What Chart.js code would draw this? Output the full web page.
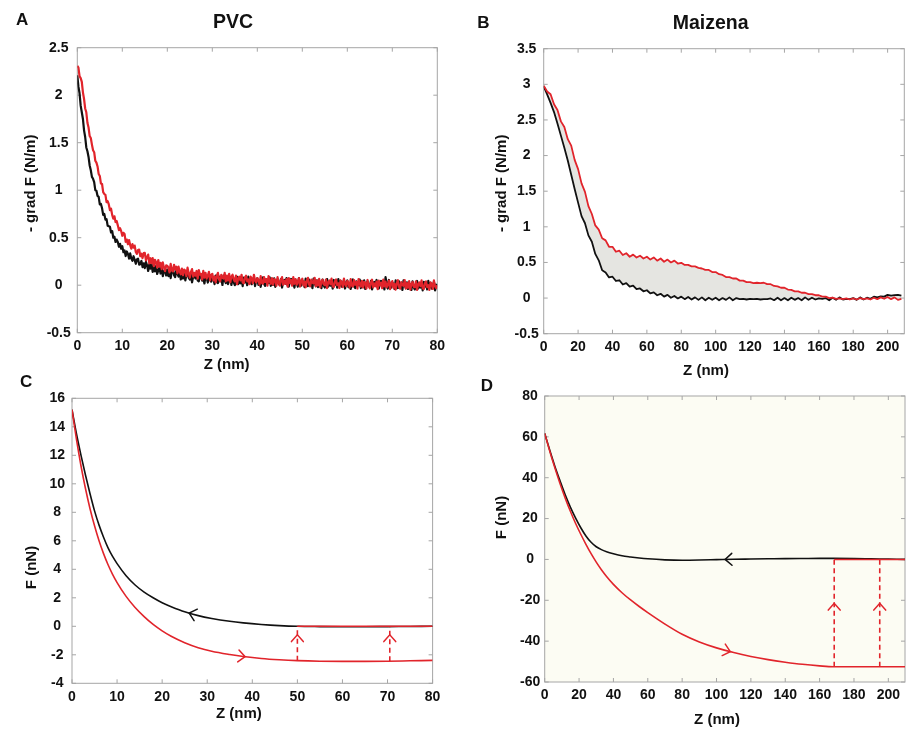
<!DOCTYPE html>
<html>
<head>
<meta charset="utf-8">
<title>PVC / Maizena force curves</title>
<script src="https://cdn.jsdelivr.net/npm/chart.js@4.4.1/dist/chart.umd.min.js"></script>
<style>
  html, body { margin: 0; padding: 0; background: #ffffff; }
  #figure { position: relative; width: 907px; height: 730px; overflow: hidden; }
  #figure canvas { position: absolute; left: 0; top: 0; }
</style>
</head>
<body>
<div id="figure">
  <canvas id="panelA" width="907" height="730"></canvas>
  <canvas id="panelB" width="907" height="730"></canvas>
  <canvas id="panelC" width="907" height="730"></canvas>
  <canvas id="panelD" width="907" height="730"></canvas>
</div>
<script>
// ---------- Panel A: PVC, force gradient vs distance ----------
const zA = [
  0,0.25,0.5,0.75,1,1.25,1.5,1.75,2,2.25,2.5,2.75,3,3.25,3.5,3.75,4,4.25,4.5,4.75,
  5,5.25,5.5,5.75,6,6.25,6.5,6.75,7,7.25,7.5,7.75,8,8.25,8.5,8.75,9,9.25,9.5,9.75,
  10,10.25,10.5,10.75,11,11.25,11.5,11.75,12,12.25,12.5,12.75,13,13.25,13.5,13.75,14,14.25,14.5,14.75,
  15,15.25,15.5,15.75,16,16.25,16.5,16.75,17,17.25,17.5,17.75,18,18.25,18.5,18.75,19,19.25,19.5,19.75,
  20,20.25,20.5,20.75,21,21.25,21.5,21.75,22,22.25,22.5,22.75,23,23.25,23.5,23.75,24,24.25,24.5,24.75,
  25,25.25,25.5,25.75,26,26.25,26.5,26.75,27,27.25,27.5,27.75,28,28.25,28.5,28.75,29,29.25,29.5,29.75,
  30,30.25,30.5,30.75,31,31.25,31.5,31.75,32,32.25,32.5,32.75,33,33.25,33.5,33.75,34,34.25,34.5,34.75,
  35,35.25,35.5,35.75,36,36.25,36.5,36.75,37,37.25,37.5,37.75,38,38.25,38.5,38.75,39,39.25,39.5,39.75,
  40,40.25,40.5,40.75,41,41.25,41.5,41.75,42,42.25,42.5,42.75,43,43.25,43.5,43.75,44,44.25,44.5,44.75,
  45,45.25,45.5,45.75,46,46.25,46.5,46.75,47,47.25,47.5,47.75,48,48.25,48.5,48.75,49,49.25,49.5,49.75,
  50,50.25,50.5,50.75,51,51.25,51.5,51.75,52,52.25,52.5,52.75,53,53.25,53.5,53.75,54,54.25,54.5,54.75,
  55,55.25,55.5,55.75,56,56.25,56.5,56.75,57,57.25,57.5,57.75,58,58.25,58.5,58.75,59,59.25,59.5,59.75,
  60,60.25,60.5,60.75,61,61.25,61.5,61.75,62,62.25,62.5,62.75,63,63.25,63.5,63.75,64,64.25,64.5,64.75,
  65,65.25,65.5,65.75,66,66.25,66.5,66.75,67,67.25,67.5,67.75,68,68.25,68.5,68.75,69,69.25,69.5,69.75,
  70,70.25,70.5,70.75,71,71.25,71.5,71.75,72,72.25,72.5,72.75,73,73.25,73.5,73.75,74,74.25,74.5,74.75,
  75,75.25,75.5,75.75,76,76.25,76.5,76.75,77,77.25,77.5,77.75,78,78.25,78.5,78.75,79,79.25,79.5,79.75,
  80];
const gradApproachA = [
  2.21,2.09,2.02,1.89,1.82,1.75,1.63,1.56,1.45,1.41,1.35,1.26,1.21,1.14,1.12,1.085,1.00,0.995,0.94,0.93,
  0.85,0.855,0.81,0.74,0.75,0.69,0.695,0.625,0.62,0.615,0.555,0.57,0.50,0.51,0.455,0.48,0.455,0.405,0.435,0.385,
  0.41,0.347,0.365,0.307,0.355,0.33,0.28,0.335,0.28,0.257,0.305,0.267,0.225,0.272,0.28,0.217,0.22,0.255,0.19,0.23,
  0.18,0.245,0.21,0.15,0.22,0.175,0.225,0.14,0.19,0.146,0.202,0.118,0.155,0.186,0.123,0.189,0.095,0.147,0.165,0.102,
  0.165,0.095,0.135,0.075,0.145,0.175,0.105,0.085,0.155,0.125,0.09,0.15,0.06,0.12,0.07,0.14,0.05,0.11,0.13,0.08,
  0.06,0.12,0.03,0.09,0.11,0.07,0.13,0.05,0.04,0.10,0.108,0.048,0.068,0.018,0.098,0.078,0.028,0.118,0.058,0.038,
  0.082,0.062,0.012,0.102,0.032,0.022,0.092,0.042,0.072,0.002,0.102,0.052,0.022,0.082,0.012,0.072,0.062,0.002,0.092,0.032,
  0.00,0.06,0.09,0.01,0.05,0.02,0.07,-0.01,0.08,0.03,0.06,0.00,0.09,0.02,0.07,0.01,0.04,0.08,-0.01,0.05,
  0.073,0.003,0.043,-0.017,0.053,0.083,0.013,-0.007,0.063,0.033,0.023,0.083,-0.007,0.053,0.003,0.073,-0.017,0.043,0.063,0.013,
  0.005,0.065,-0.025,0.035,0.055,0.015,0.075,-0.005,-0.015,0.045,0.065,0.005,0.025,-0.025,0.055,0.035,-0.015,0.075,0.015,-0.005,
  0.05,0.03,-0.02,0.07,0.00,-0.01,0.06,0.01,0.04,-0.03,0.07,0.02,-0.01,0.05,-0.02,0.04,0.03,-0.03,0.06,0.00,
  -0.025,0.035,0.065,-0.015,0.025,-0.005,0.045,-0.035,0.055,0.005,0.035,-0.025,0.065,-0.005,0.045,-0.015,0.015,0.055,-0.035,0.025,
  0.05,-0.02,0.02,-0.04,0.03,0.06,-0.01,-0.03,0.04,0.01,0.00,0.06,-0.03,0.03,-0.02,0.05,-0.04,0.02,0.04,-0.01,
  -0.015,0.045,-0.045,0.015,0.035,0.005,0.055,-0.025,-0.035,0.025,0.045,-0.015,0.005,-0.045,0.085,0.015,-0.035,0.055,-0.005,-0.025,
  0.03,0.01,-0.04,0.05,-0.02,-0.03,0.04,-0.01,0.02,-0.05,0.05,0.00,-0.03,0.03,-0.04,0.02,0.01,-0.05,0.04,-0.02,
  -0.045,0.015,0.045,-0.035,0.005,-0.025,0.025,-0.055,0.035,-0.015,0.015,-0.045,0.045,-0.025,0.025,-0.035,-0.005,0.035,-0.055,0.005,
  0.00];
const gradRetractA = [
  2.31,2.29,2.20,2.18,2.14,2.03,1.96,1.86,1.82,1.71,1.66,1.57,1.55,1.48,1.42,1.40,1.31,1.29,1.25,1.17,
  1.15,1.07,1.065,0.98,0.96,0.95,0.875,0.885,0.85,0.79,0.805,0.74,0.70,0.725,0.665,0.675,0.63,0.58,0.60,0.57,
  0.52,0.552,0.54,0.457,0.48,0.432,0.475,0.422,0.385,0.432,0.395,0.417,0.35,0.33,0.37,0.375,0.305,0.332,0.285,0.337,
  0.34,0.262,0.295,0.322,0.23,0.284,0.232,0.286,0.20,0.268,0.242,0.186,0.265,0.195,0.235,0.17,0.24,0.186,0.147,0.208,
  0.205,0.185,0.135,0.225,0.155,0.145,0.215,0.165,0.195,0.125,0.195,0.145,0.115,0.175,0.105,0.165,0.155,0.095,0.185,0.125,
  0.08,0.14,0.17,0.09,0.13,0.10,0.15,0.07,0.16,0.11,0.12,0.06,0.15,0.08,0.13,0.07,0.10,0.14,0.05,0.11,
  0.12,0.05,0.09,0.03,0.10,0.13,0.06,0.04,0.11,0.08,0.07,0.13,0.04,0.10,0.05,0.12,0.03,0.09,0.11,0.06,
  0.04,0.10,0.01,0.07,0.09,0.05,0.11,0.03,0.02,0.08,0.10,0.04,0.06,0.01,0.09,0.07,0.02,0.11,0.05,0.03,
  0.075,0.055,0.005,0.095,0.025,0.015,0.085,0.035,0.065,-0.005,0.095,0.045,0.015,0.075,0.005,0.065,0.055,-0.005,0.085,0.025,
  -0.005,0.055,0.085,0.005,0.045,0.015,0.065,-0.015,0.075,0.025,0.055,-0.005,0.085,0.015,0.065,0.005,0.035,0.075,-0.015,0.045,
  0.068,-0.002,0.038,-0.022,0.048,0.078,0.008,-0.012,0.058,0.028,0.018,0.078,-0.012,0.048,-0.002,0.068,-0.022,0.038,0.058,0.008,
  0.00,0.06,-0.03,0.03,0.05,0.01,0.07,-0.01,-0.02,0.04,0.06,0.00,0.02,-0.03,0.05,0.03,-0.02,0.07,0.01,-0.01,
  0.045,0.025,-0.025,0.065,-0.005,-0.015,0.055,0.005,0.035,-0.035,0.065,0.015,-0.015,0.045,-0.025,0.035,0.025,-0.035,0.055,-0.005,
  -0.032,0.028,0.058,-0.022,0.018,-0.012,0.038,-0.042,0.048,-0.002,0.028,-0.032,0.058,-0.012,0.038,-0.022,0.008,0.048,-0.042,0.018,
  0.043,-0.027,0.013,-0.047,0.023,0.053,-0.017,-0.037,0.033,0.003,-0.007,0.053,-0.037,0.023,-0.027,0.043,-0.047,0.013,0.033,-0.017,
  -0.02,0.04,-0.05,0.01,0.03,-0.01,0.05,-0.03,-0.04,0.02,0.04,-0.02,0.00,-0.05,0.03,0.01,-0.04,0.05,-0.01,-0.03,
  0.00];
const xTicksA = [0,10,20,30,40,50,60,70,80];
const yTicksA = [-0.5,0,0.5,1,1.5,2,2.5];

// ---------- Panel B: Maizena, force gradient vs distance ----------
const zB = [0,2,4,6,8,10,12,14,16,18,20,22,24,26,28,30,32,34,36,38,40,42,44,46,48,50,52,54,56,58,60,62,64,66,68,70,72,74,76,78,80,82,84,86,88,90,92,94,96,98,100,102,104,106,108,110,112,114,116,118,120,122,124,126,128,130,132,134,136,138,140,142,144,146,148,150,152,154,156,158,160,162,164,166,168,170,172,174,176,178,180,182,184,186,188,190,192,194,196,198,200,202,204,206,208];
const gradApproachB = [
  2.97,2.86,2.74,2.61,2.45,2.28,2.11,1.93,1.73,1.53,
  1.34,1.15,1.05,0.88,0.79,0.62,0.53,0.39,0.36,0.29,
  0.30,0.24,0.25,0.19,0.21,0.16,0.175,0.125,0.135,0.095,
  0.11,0.065,0.08,0.04,0.06,0.02,0.045,0.005,0.03,-0.005,
  0.02,-0.015,0.015,-0.02,0.01,-0.025,0.01,-0.03,0.005,-0.025,
  0.005,-0.03,0.0,-0.025,0.01,-0.03,0.0,-0.015,-0.01,-0.02,
  -0.01,-0.015,-0.01,-0.02,-0.015,-0.015,-0.005,-0.03,0.005,-0.03,
  0.0,-0.03,0.005,-0.025,0.0,-0.03,0.01,-0.025,0.005,-0.02,
  -0.005,-0.01,0.0,-0.03,0.005,-0.025,0.01,-0.02,-0.01,-0.015,
  0.0,-0.025,0.01,-0.02,0.005,-0.01,0.02,0.01,0.025,0.02,
  0.045,0.035,0.04,0.045,0.035];
const gradRetractB = [
  2.98,2.90,2.86,2.72,2.64,2.48,2.40,2.23,2.14,1.94,
  1.81,1.61,1.49,1.29,1.18,1.02,0.96,0.84,0.81,0.72,
  0.72,0.65,0.665,0.605,0.63,0.58,0.61,0.57,0.595,0.555,
  0.58,0.54,0.57,0.525,0.555,0.51,0.54,0.50,0.525,0.485,
  0.495,0.465,0.465,0.445,0.445,0.425,0.415,0.395,0.395,0.365,
  0.365,0.335,0.325,0.295,0.295,0.275,0.275,0.245,0.245,0.225,
  0.225,0.21,0.215,0.21,0.215,0.195,0.195,0.17,0.165,0.145,
  0.145,0.12,0.115,0.095,0.095,0.075,0.075,0.055,0.055,0.04,
  0.04,0.02,0.02,0.0,0.005,-0.01,-0.005,-0.015,-0.005,-0.02,
  -0.005,-0.02,0.0,-0.015,-0.005,-0.02,0.005,-0.015,0.01,-0.01,
  0.015,-0.015,0.01,-0.025,-0.01];
const xTicksB = [0,20,40,60,80,100,120,140,160,180,200];
const yTicksB = [-0.5,0,0.5,1,1.5,2,2.5,3,3.5];

// ---------- Panel C: PVC, force vs distance ----------
const zC = [0,1,2,3,4,5,6,7,8,9,10,12,14,16,18,20,22,25,28,31,35,38,42,46,50,55,60,65,70,75,80];
const forceApproachC = [15.2,13.5,12.0,10.6,9.3,8.1,7.1,6.25,5.5,4.9,4.4,3.55,2.9,2.4,2.0,1.65,1.38,1.02,0.75,0.55,0.35,0.24,0.13,0.05,0.0,-0.02,-0.03,-0.03,-0.02,-0.01,0.0];
const forceRetractC = [15.2,13.1,11.25,9.65,8.25,7.05,6.0,5.1,4.32,3.65,3.07,2.1,1.32,0.68,0.13,-0.32,-0.7,-1.15,-1.5,-1.75,-1.98,-2.12,-2.26,-2.35,-2.41,-2.45,-2.46,-2.46,-2.45,-2.42,-2.39];
const plateauZC = [50, 80];
const plateauFC = [0, 0];
const jumpZC = [50, 70.5];
const jumpFromC = [-2.41, -2.45];
const jumpToC = [0, 0];
const xTicksC = [0,10,20,30,40,50,60,70,80];
const yTicksC = [-4,-2,0,2,4,6,8,10,12,14,16];

// ---------- Panel D: Maizena, force vs distance ----------
const zD = [0,3,6,9,12,15,18,21,24,27,30,33,36,40,45,50,55,60,70,80,90,100,110,120,130,140,150,160,168,180,190,200,210];
const forceApproachD = [61.7,53.3,45.4,38.3,31.5,25.5,20.2,15.5,11.5,8.4,6.2,4.8,3.8,2.8,1.8,1.2,0.7,0.3,-0.2,-0.4,-0.3,-0.1,0.1,0.2,0.3,0.4,0.45,0.5,0.5,0.45,0.3,0.15,0.0];
const forceRetractD = [61.7,52.85,44.6,36.95,29.9,23.45,17.6,12.32,7.37,2.81,-1.33,-5.05,-8.35,-12.2,-16.3,-19.85,-23.05,-26.05,-31.65,-36.65,-40.4,-43.3,-45.6,-47.5,-49.05,-50.3,-51.35,-52.1,-52.5,-52.5,-52.5,-52.5,-52.5];
const plateauZD = [168.5, 210];
const plateauFD = [0, 0];
const jumpZD = [168.5, 195];
const jumpFromD = [-52.5, -52.5];
const jumpToD = [0, 0];
const xTicksD = [0,20,40,60,80,100,120,140,160,180,200];
const yTicksD = [-60,-40,-20,0,20,40,60,80];

// ---------- shared styling ----------
const INK = '#111111';
const RED = '#e1242b';
const FRAME = '#a6a6a6';
const FONT = '"Liberation Sans", Arial, Helvetica, sans-serif';
const PAGE_W = 907, PAGE_H = 730;
const Y_AXIS_W = 50, X_AXIS_H = 30;

function pairs(xs, ys) { return xs.map((x, i) => ({ x: x, y: ys[i] })); }

function curve(xs, ys, color, width, extra) {
  return Object.assign({
    data: pairs(xs, ys), borderColor: color, backgroundColor: color,
    borderWidth: width, pointRadius: 0, fill: false, tension: 0
  }, extra || {});
}

function jumpLines(zs, from, to) {
  return zs.map((z, i) => curve([z, z], [from[i], to[i]], RED, 1.6,
    { borderDash: [5, 3.5], order: 1 }));
}

function drawChevron(ctx, x, y, ang, len, half, color, lw) {
  ctx.save();
  ctx.strokeStyle = color; ctx.lineWidth = lw; ctx.lineCap = 'round'; ctx.lineJoin = 'miter';
  ctx.beginPath();
  ctx.moveTo(x - len * Math.cos(ang - half), y - len * Math.sin(ang - half));
  ctx.lineTo(x, y);
  ctx.lineTo(x - len * Math.cos(ang + half), y - len * Math.sin(ang + half));
  ctx.stroke();
  ctx.restore();
}

// place an arrowhead on a drawn dataset where its x (or y) reaches a value
function locateOnSeries(chart, spec) {
  const data = chart.data.datasets[spec.ds].data;
  const pts = chart.getDatasetMeta(spec.ds).data;
  for (let i = 0; i < data.length - 1; i++) {
    const a = data[i][spec.key], b = data[i + 1][spec.key];
    if (a !== b && (spec.at - a) * (spec.at - b) <= 0) {
      const t = (spec.at - a) / (b - a);
      const p0 = pts[i], p1 = pts[i + 1];
      let ang = Math.atan2(p1.y - p0.y, p1.x - p0.x);
      if (spec.dir < 0) ang += Math.PI;
      return { x: p0.x + t * (p1.x - p0.x), y: p0.y + t * (p1.y - p0.y), ang: ang };
    }
  }
  return null;
}

function panelDecor(p) {
  return {
    id: 'panelDecor',
    beforeDatasetsDraw(chart) {
      const { ctx, chartArea: a, scales } = chart;
      ctx.save();
      if (p.plotBg) {
        ctx.fillStyle = p.plotBg;
        ctx.fillRect(a.left, a.top, a.right - a.left, a.bottom - a.top);
      }
      ctx.strokeStyle = FRAME; ctx.lineWidth = 1;
      ctx.strokeRect(a.left, a.top, a.right - a.left, a.bottom - a.top);
      const tl = 4;
      ctx.beginPath();
      scales.x.ticks.forEach(t => {
        const px = scales.x.getPixelForValue(t.value);
        ctx.moveTo(px, a.bottom); ctx.lineTo(px, a.bottom - tl);
        ctx.moveTo(px, a.top); ctx.lineTo(px, a.top + tl);
      });
      scales.y.ticks.forEach(t => {
        const py = scales.y.getPixelForValue(t.value);
        ctx.moveTo(a.left, py); ctx.lineTo(a.left + tl, py);
        ctx.moveTo(a.right, py); ctx.lineTo(a.right - tl, py);
      });
      ctx.stroke();
      ctx.restore();
    },
    afterDatasetsDraw(chart) {
      (p.arrows || []).forEach(spec => {
        const loc = locateOnSeries(chart, spec);
        if (loc) drawChevron(chart.ctx, loc.x, loc.y, loc.ang, spec.len || 9, spec.half || 0.72, spec.color, 1.5);
      });
    },
    afterDraw(chart) {
      const ctx = chart.ctx;
      ctx.save();
      ctx.fillStyle = INK;
      ctx.textBaseline = 'alphabetic';
      p.texts.forEach(t => {
        ctx.font = 'bold ' + t.size + 'px ' + FONT;
        if (t.rotate) {
          ctx.save();
          ctx.translate(t.x, t.y);
          ctx.rotate(-Math.PI / 2);
          ctx.textAlign = 'center';
          ctx.fillText(t.text, 0, 0);
          ctx.restore();
        } else {
          ctx.textAlign = t.align || 'center';
          ctx.fillText(t.text, t.x, t.y);
        }
      });
      ctx.restore();
    }
  };
}

function buildPanel(canvasId, p) {
  const tickFont = { family: FONT, size: 14, weight: 'bold' };
  return new Chart(document.getElementById(canvasId), {
    type: 'line',
    data: { datasets: p.datasets },
    options: {
      responsive: false,
      animation: false,
      events: [],
      layout: {
        padding: {
          left: p.box.l - Y_AXIS_W,
          right: PAGE_W - p.box.r,
          top: p.box.t,
          bottom: PAGE_H - p.box.b - X_AXIS_H
        }
      },
      elements: { point: { radius: 0 }, line: { borderJoinStyle: 'round', borderCapStyle: 'butt' } },
      plugins: {
        legend: { display: false },
        tooltip: { enabled: false },
        filler: { drawTime: 'beforeDatasetsDraw', propagate: false }
      },
      scales: {
        x: {
          type: 'linear', min: p.xMin, max: p.xMax,
          grid: { display: false, drawTicks: false }, border: { display: false },
          afterFit: s => { s.height = X_AXIS_H; },
          afterBuildTicks: s => { s.ticks = p.xTicks.map(v => ({ value: v })); },
          ticks: { font: tickFont, color: INK, padding: 5, maxRotation: 0, autoSkip: false,
                   callback: v => String(v) }
        },
        y: {
          type: 'linear', min: p.yMin, max: p.yMax,
          grid: { display: false, drawTicks: false }, border: { display: false },
          afterFit: s => { s.width = Y_AXIS_W; },
          afterBuildTicks: s => { s.ticks = p.yTicks.map(v => ({ value: v })); },
          ticks: { font: tickFont, color: INK, padding: p.yPad, crossAlign: 'center', autoSkip: false,
                   callback: v => String(v) }
        }
      }
    },
    plugins: [panelDecor(p)]
  });
}

// A
buildPanel('panelA', {
  box: { l: 77.3, t: 47.7, r: 437.3, b: 332.7 },
  xMin: 0, xMax: 80, yMin: -0.5, yMax: 2.5, xTicks: xTicksA, yTicks: yTicksA, yPad: 6.5,
  datasets: [
    curve(zA, gradApproachA, INK, 2.2, { order: 1 }),
    curve(zA, gradRetractA, RED, 2.2, { order: 0 })
  ],
  texts: [
    { text: 'A', x: 16, y: 25, size: 17, align: 'left' },
    { text: 'PVC', x: 233, y: 28.3, size: 19.5 },
    { text: 'Z (nm)', x: 226.7, y: 369.3, size: 15 },
    { text: '- grad F (N/m)', x: 34.5, y: 183.3, size: 15, rotate: true }
  ]
});

// B
buildPanel('panelB', {
  box: { l: 543.7, t: 48.7, r: 904.3, b: 333.7 },
  xMin: 0, xMax: 209.7, yMin: -0.5, yMax: 3.5, xTicks: xTicksB, yTicks: yTicksB, yPad: 5,
  datasets: [
    curve(zB, gradApproachB, INK, 1.8, { order: 1 }),
    curve(zB, gradRetractB, RED, 1.8, { order: 0, fill: '-1', backgroundColor: '#e5e5e1' })
  ],
  texts: [
    { text: 'B', x: 477.3, y: 28.3, size: 17, align: 'left' },
    { text: 'Maizena', x: 710.7, y: 28.5, size: 19.5 },
    { text: 'Z (nm)', x: 706, y: 375, size: 15 },
    { text: '- grad F (N/m)', x: 505.5, y: 183.3, size: 15, rotate: true }
  ]
});

// C
buildPanel('panelC', {
  box: { l: 72, t: 398.3, r: 432.6, b: 683.3 },
  xMin: 0, xMax: 80, yMin: -4, yMax: 16, xTicks: xTicksC, yTicks: yTicksC, yPad: 7,
  datasets: [
    curve(zC, forceApproachC, INK, 1.6, { order: 2, cubicInterpolationMode: 'monotone' }),
    curve(zC, forceRetractC, RED, 1.6, { order: 1, cubicInterpolationMode: 'monotone' }),
    curve(plateauZC, plateauFC, RED, 1.6, { order: 0 })
  ].concat(jumpLines(jumpZC, jumpFromC, jumpToC)),
  arrows: [
    { ds: 0, key: 'x', at: 26, dir: -1, color: INK },
    { ds: 1, key: 'x', at: 38.4, dir: 1, color: RED },
    { ds: 3, key: 'y', at: -0.6, dir: 1, color: RED },
    { ds: 4, key: 'y', at: -0.6, dir: 1, color: RED }
  ],
  texts: [
    { text: 'C', x: 20, y: 386.5, size: 17, align: 'left' },
    { text: 'Z (nm)', x: 238.8, y: 718.3, size: 15 },
    { text: 'F (nN)', x: 35.5, y: 567.5, size: 15, rotate: true }
  ]
});

// D
buildPanel('panelD', {
  box: { l: 544.7, t: 396, r: 905, b: 682 },
  xMin: 0, xMax: 209.7, yMin: -60, yMax: 80, xTicks: xTicksD, yTicks: yTicksD, yPad: 4.5,
  plotBg: '#fcfcf3',
  datasets: [
    curve(zD, forceApproachD, INK, 1.6, { order: 2, cubicInterpolationMode: 'monotone' }),
    curve(zD, forceRetractD, RED, 1.6, { order: 1, cubicInterpolationMode: 'monotone' }),
    curve(plateauZD, plateauFD, RED, 1.6, { order: 0 })
  ].concat(jumpLines(jumpZD, jumpFromD, jumpToD)),
  arrows: [
    { ds: 0, key: 'x', at: 105, dir: -1, color: INK },
    { ds: 1, key: 'x', at: 108, dir: 1, color: RED },
    { ds: 3, key: 'y', at: -21.5, dir: 1, color: RED },
    { ds: 4, key: 'y', at: -21.5, dir: 1, color: RED }
  ],
  texts: [
    { text: 'D', x: 480.7, y: 390.5, size: 17, align: 'left' },
    { text: 'Z (nm)', x: 717, y: 724, size: 15 },
    { text: 'F (nN)', x: 505.5, y: 517.5, size: 15, rotate: true }
  ]
});
</script>
</body>
</html>
